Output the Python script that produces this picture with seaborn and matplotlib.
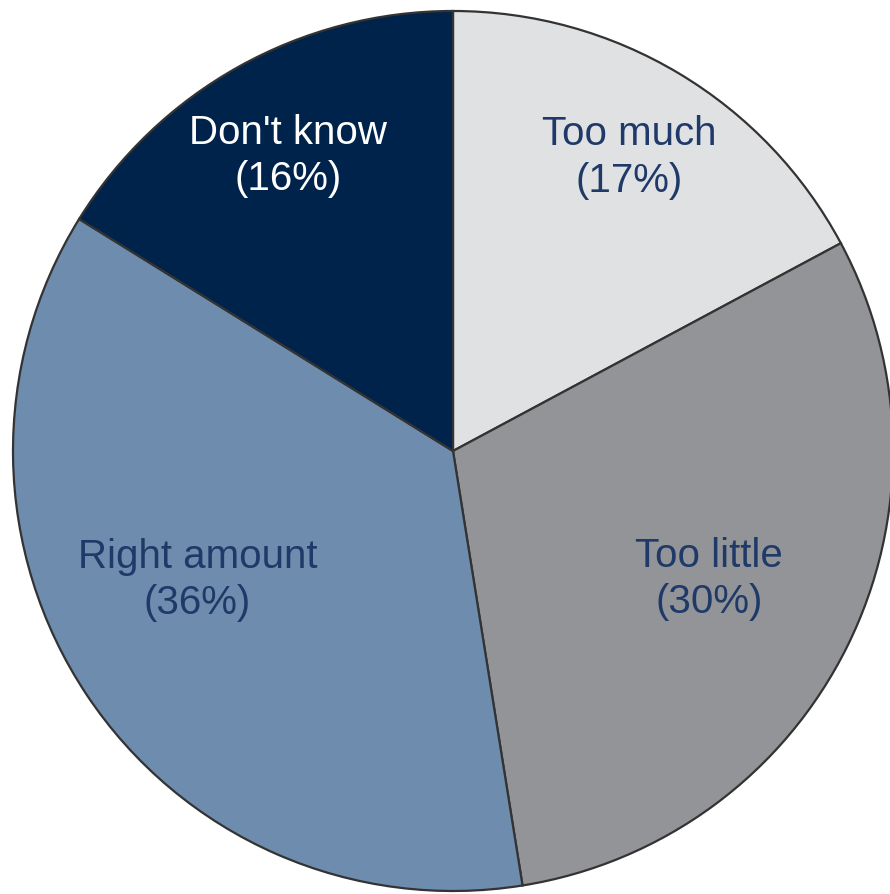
import numpy as np
import matplotlib
matplotlib.use("Agg")
import matplotlib.pyplot as plt
import seaborn as sns

categories = ["Too much", "Too little", "Right amount", "Don't know"]
shares = [17, 30, 36, 16]
colors = ["#E0E1E3", "#939497", "#6E8CAE", "#00234B"]
text_colors = ["#1F3A68", "#1F3A68", "#1F3A68", "#FFFFFF"]
label_radius = [0.78, 0.65, 0.65, 0.77]
label_angle_shift = [0, 0, 7, 0]

sns.set_theme(style="white")
plt.rcParams['font.family'] = ['Liberation Sans', 'DejaVu Sans']

fig = plt.figure(figsize=(8.9, 8.95), dpi=100)
W, H = 890, 895
cx, cy, R = 453, 452, 440
ax = fig.add_axes([(cx - R) / W, (H - cy - R) / H, 2 * R / W, 2 * R / H])

wedges, _ = ax.pie(shares, colors=colors, startangle=90, counterclock=False,
                   radius=1.0,
                   wedgeprops=dict(edgecolor="#333333", linewidth=1.6))
ax.set_xlim(-1, 1)
ax.set_ylim(-1, 1)
ax.set_aspect("equal")
ax.axis("off")

for w, cat, s, tc, rr, sh in zip(wedges, categories, shares, text_colors,
                                 label_radius, label_angle_shift):
    # clockwise shift means decreasing angle
    mid = np.deg2rad((w.theta1 + w.theta2) / 2 - sh)
    x, y = rr * np.cos(mid), rr * np.sin(mid)
    ax.text(x, y, f"{cat}\n({s}%)", ha="center", va="center",
            fontsize=29, color=tc, linespacing=1.28)

fig.savefig("out.png", dpi=100)
